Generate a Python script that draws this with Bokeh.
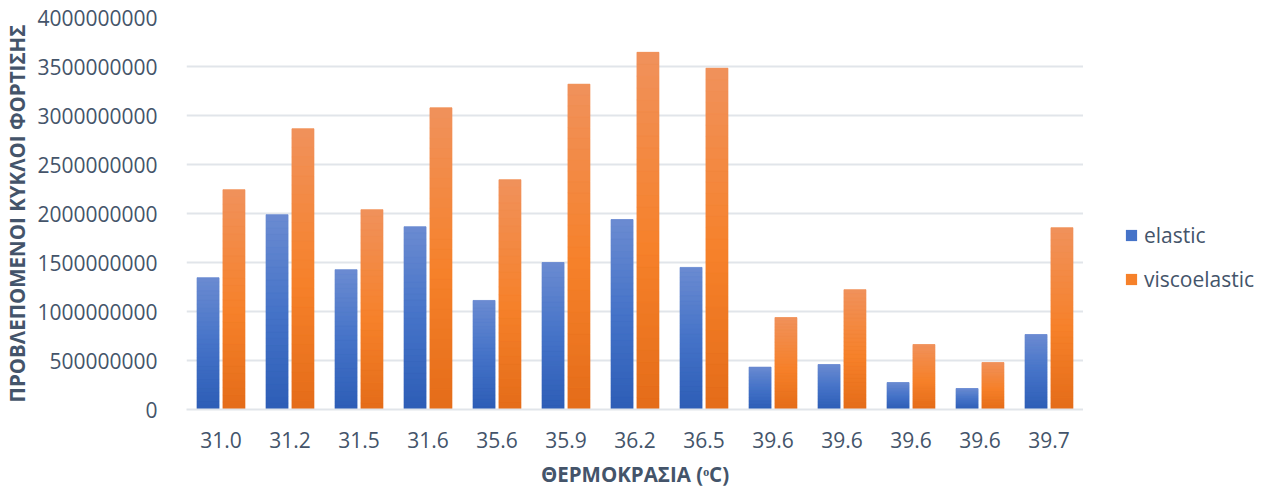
from bokeh.plotting import figure
from bokeh.layouts import row
from bokeh.models import (Range1d, FixedTicker, SingleIntervalTicker, NumeralTickFormatter,
                          Legend, LegendItem, ColumnDataSource)
from bokeh.embed import file_html
from bokeh.resources import INLINE

# ---- data ----
temps = ["31.0", "31.2", "31.5", "31.6", "35.6", "35.9", "36.2", "36.5",
         "39.6", "39.6", "39.6", "39.6", "39.7"]
elastic = [1.345e9, 1.988e9, 1.427e9, 1.865e9, 1.113e9, 1.500e9, 1.938e9,
           1.450e9, 0.433e9, 0.459e9, 0.275e9, 0.214e9, 0.765e9]
viscoelastic = [2.243e9, 2.865e9, 2.039e9, 3.078e9, 2.345e9, 3.320e9, 3.645e9,
                3.483e9, 0.938e9, 1.223e9, 0.663e9, 0.479e9, 1.855e9]
series_names = ["elastic", "viscoelastic"]
Y_MAX = 4e9
Y_STEP = 5e8

# ---- styling / layout ----
TXT = "#44546A"
GRID = "#E1E5EA"
FONT = "Open Sans"
BLUE_STOPS = [(0.0, "#6B8BD1"), (0.5, "#4573C8"), (1.0, "#2D5DB6")]
ORANGE_STOPS = [(0.0, "#F0925C"), (0.55, "#F6812A"), (1.0, "#E46C19")]
BAR_W = 0.32
OFFSET = 0.188
NSLICE = 30
W, H = 1268, 490
MAIN_W = 1083
n = len(temps)


def hex2rgb(h):
    h = h.lstrip("#")
    return tuple(int(h[i:i + 2], 16) for i in (0, 2, 4))


def grad(stops, t):
    for (p0, c0), (p1, c1) in zip(stops[:-1], stops[1:]):
        if t <= p1:
            f = (t - p0) / (p1 - p0)
            a, b = hex2rgb(c0), hex2rgb(c1)
            return "#%02x%02x%02x" % tuple(round(a[i] + (b[i] - a[i]) * f) for i in range(3))
    return stops[-1][1]


p = figure(width=MAIN_W, height=H, x_range=Range1d(-0.5, n - 0.5),
           y_range=Range1d(0, Y_MAX), output_backend="svg", toolbar_location=None,
           min_border_left=185, min_border_right=0, min_border_top=17,
           min_border_bottom=80)
p.outline_line_color = None
p.background_fill_color = "white"
p.border_fill_color = "white"
p.xgrid.grid_line_color = None
p.ygrid.grid_line_color = GRID
p.ygrid.grid_line_width = 2

xs = list(range(n))
swatches = []
for vals, off, stops in [(elastic, -OFFSET, BLUE_STOPS),
                         (viscoelastic, OFFSET, ORANGE_STOPS)]:
    # solid base bar (hides anti-aliasing seams of the gradient slices)
    p.vbar(x=[x + off for x in xs], top=vals, width=BAR_W,
           fill_color=stops[1][1], line_color=None)
    left, right, bottom, top, color = [], [], [], [], []
    for x, v in zip(xs, vals):
        for k in range(NSLICE):
            left.append(x + off - BAR_W / 2)
            right.append(x + off + BAR_W / 2)
            bottom.append(v * k / NSLICE)
            top.append(v * (k + 1) / NSLICE)
            color.append(grad(stops, 1 - (k + 0.5) / NSLICE))
    src = ColumnDataSource(dict(left=left, right=right, bottom=bottom, top=top, color=color))
    p.quad(left="left", right="right", bottom="bottom", top="top", source=src,
           fill_color="color", line_color="color", line_width=0.6)
    swatches.append(stops[1][1])

# x axis
p.xaxis.ticker = FixedTicker(ticks=xs)
p.xaxis.major_label_overrides = {i: t for i, t in enumerate(temps)}
p.xaxis.axis_label = "ΘΕΡΜΟΚΡΑΣΙΑ (ᵒC)"
p.xaxis.axis_line_color = GRID
p.xaxis.axis_line_width = 2
p.xaxis.major_tick_line_color = None
p.xaxis.minor_tick_line_color = None
p.xaxis.major_label_standoff = 16
p.xaxis.axis_label_standoff = 9

# y axis
p.yaxis.ticker = SingleIntervalTicker(interval=Y_STEP, num_minor_ticks=0)
p.yaxis.formatter = NumeralTickFormatter(format="0")
p.yaxis.axis_label = "ΠΡΟΒΛΕΠΟΜΕΝΟΙ ΚΥΚΛΟΙ ΦΟΡΤΙΣΗΣ"
p.yaxis.axis_line_color = None
p.yaxis.major_tick_line_color = None
p.yaxis.minor_tick_line_color = None
p.yaxis.major_label_standoff = 23
p.yaxis.axis_label_standoff = 3

for ax in (p.xaxis, p.yaxis):
    ax.major_label_text_font = FONT
    ax.major_label_text_font_size = "21px"
    ax.major_label_text_color = TXT
    ax.axis_label_text_font = FONT
    ax.axis_label_text_font_size = "20.5px"
    ax.axis_label_text_font_style = "bold"
    ax.axis_label_text_color = TXT

# ---- legend panel (separate figure to the right) ----
lg = figure(width=W - MAIN_W, height=H, x_range=(0, 1), y_range=(0, 1),
            output_backend="svg", toolbar_location=None,
            x_axis_location=None, y_axis_location=None,
            min_border=0, min_border_left=0, min_border_right=0,
            min_border_top=0, min_border_bottom=0)
lg.outline_line_color = None
lg.xgrid.visible = False
lg.ygrid.visible = False
items = []
for name, col in zip(series_names, swatches):
    # zero-height swatch renderer: only its legend entry is visible
    r = lg.vbar(x=[0.5], top=[0], bottom=[0], width=0.1, fill_color=col, line_color=None)
    items.append(LegendItem(label=name, renderers=[r]))
legend = Legend(items=items, location=(41, 116), orientation="vertical",
                glyph_width=14, glyph_height=14, label_standoff=6, spacing=16,
                padding=0, margin=0, border_line_color=None, background_fill_alpha=0,
                label_text_font=FONT, label_text_font_size="21px", label_text_color=TXT)
lg.add_layout(legend)

open("out.html", "w").write(file_html(row(p, lg), INLINE))
